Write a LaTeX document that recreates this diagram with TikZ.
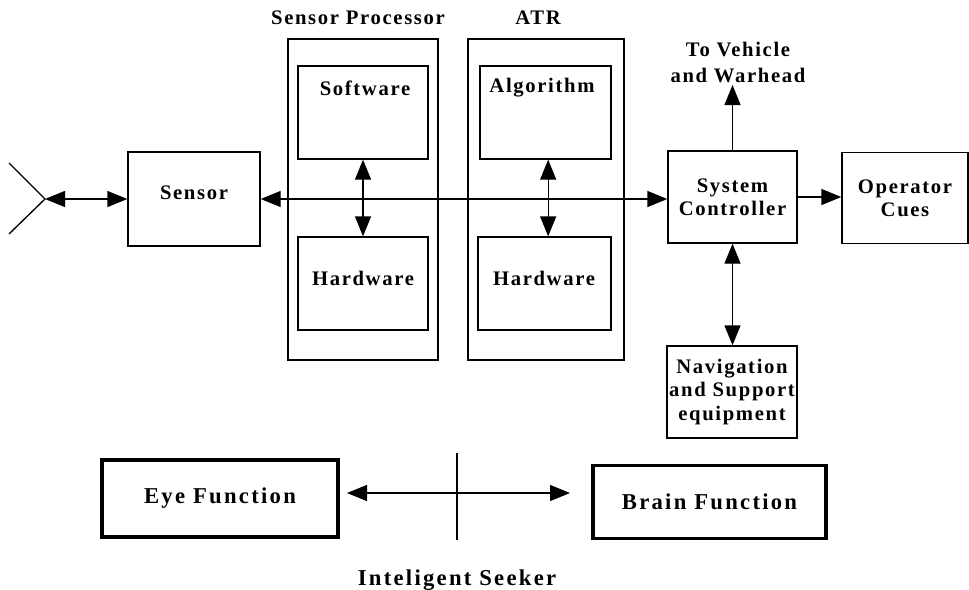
\documentclass[tikz,border=0pt]{standalone}
\usepackage{fontspec}
\setmainfont{Liberation Serif}[LetterSpace=8]
\usetikzlibrary{arrows.meta}
\begin{document}
\begin{tikzpicture}[x=0.75pt,y=-0.75pt,
  every node/.style={font=\bfseries\fontsize{15.5}{17.5}\selectfont},
  big/.style={font=\bfseries\fontsize{17}{19}\selectfont\addfontfeature{LetterSpace=10}},
  wh/.style 2 args={minimum width=#1*0.75pt, minimum height=#2*0.75pt},
  box/.style={draw, line width=1pt, inner sep=0pt},
  thickbox/.style={draw, line width=2.4pt, inner sep=0pt, big},
  txt/.style={align=center, inner sep=0pt},
  conn/.style={line width=1pt},
  tip/.tip={Triangle[length=15pt,width=12pt]},
  biarrow/.style={conn, tip-tip},
  onearrow/.style={conn, -tip}]
\useasboundingbox (0,0) rectangle (969,589);

% Sensor
\node[box, wh={132}{94}] (sensor) at (194,199) {};
\node[txt] (sensort) at (194,193) {Sensor};

% Sensor processor
\node[box, wh={150}{321}] (sp) at (363,199.5) {};
\node[txt] (spl) at (358,18) {Sensor Processor};
\node[box, wh={130}{93}] (sw) at (363,112.5) {};
\node[txt] (swt) at (365,88) {Software};
\node[box, wh={130}{93}] (hwa) at (363,283.5) {};
\node[txt] (hwat) at (363,278) {Hardware};

% ATR
\node[box, wh={156}{321}] (atr) at (546,199.5) {};
\node[txt] (atrl) at (538,18) {ATR};
\node[box, wh={131}{93}] (alg) at (545.5,112.5) {};
\node[txt] (algt) at (542,88) {Algorithm};
\node[box, wh={133}{93}] (hwb) at (544.5,283.5) {};
\node[txt] (hwbt) at (544,278) {Hardware};

% Controller and friends
\node[box, wh={129}{92}, align=center] (sc) at (732.5,197) {System\\Controller};
\node[box, wh={126}{91}, align=center] (oc) at (905,198) {Operator\\Cues};
\node[box, wh={130}{92}, align=center] (nav) at (732,392) {Navigation\\and Support\\equipment};
\node[txt] (tv) at (738,62) {To Vehicle\\[2pt]and Warhead};
\coordinate (tvc) at (732.5,85);

% Bottom
\node[thickbox, wh={236}{77}] (eye) at (220,498.5) {Eye Function};
\node[thickbox, wh={233}{73}] (brain) at (709.5,502) {Brain Function};
\node[txt, big, anchor=base] (seeker) at (457,585) {Inteligent Seeker};

% Antenna
\coordinate (apex) at (45,199);
\coordinate (antu) at (9,163);
\coordinate (antl) at (9,234);
\draw[conn] (antu) -- (apex) -- (antl);

% Connectors
\draw[biarrow] (apex) -- (sensor.west);
\draw[biarrow] (sensor.east) -- (sensor.east -| sc.west);
\draw[biarrow] (sw.south) -- (hwa.north);
\draw[biarrow] ([xshift=2pt]alg.south) -- ([xshift=2pt]alg.south |- hwb.north);
\draw[onearrow] (sc.east) -- (sc.east -| oc.west);
\draw[onearrow] (sc.north) -- (tvc);
\draw[biarrow] (sc.south) -- (sc.south |- nav.north);

\coordinate (eyeA) at (347,493);
\coordinate (brainA) at (570,493);
\draw[biarrow] (eyeA) -- (brainA);
\coordinate (vt) at (457,453);
\coordinate (vb) at (457,540);
\draw[conn] (vt) -- (vb);
\end{tikzpicture}
\end{document}
